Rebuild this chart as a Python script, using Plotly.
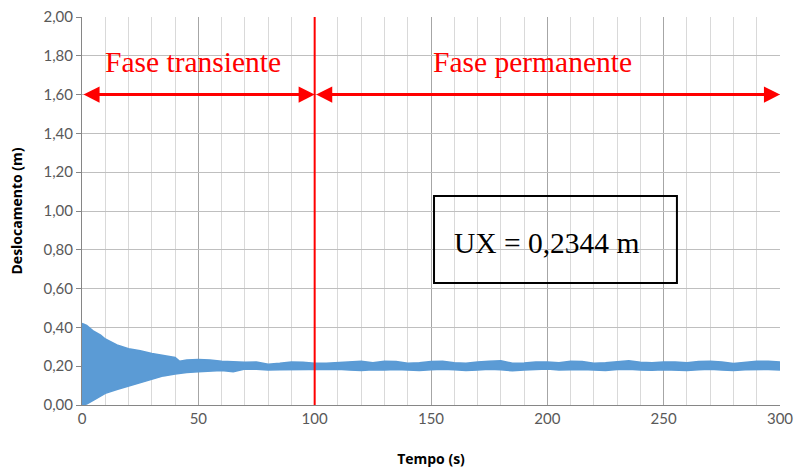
import plotly.graph_objects as go

# Envelope of the displacement signal
tempo = [0, 2, 5, 8, 10, 15, 20, 25, 30, 35, 40, 42, 45, 50, 55, 60, 65, 70, 75, 80,
         85, 90, 95, 100, 105, 110, 115, 120, 125, 130, 135, 140, 145, 150, 155, 160,
         165, 170, 175, 180, 185, 190, 195, 200, 205, 210, 215, 220, 225, 230, 235,
         240, 245, 250, 255, 260, 265, 270, 275, 280, 285, 290, 295, 300]
desl_max = [0.42, 0.41, 0.38, 0.36, 0.34, 0.31, 0.29, 0.28, 0.265, 0.255, 0.245, 0.225,
            0.232, 0.235, 0.232, 0.225, 0.222, 0.22, 0.222, 0.21, 0.215, 0.222, 0.22,
            0.215, 0.215, 0.218, 0.222, 0.226, 0.218, 0.225, 0.224, 0.215, 0.218, 0.224,
            0.226, 0.218, 0.215, 0.222, 0.225, 0.228, 0.215, 0.216, 0.222, 0.222, 0.218,
            0.225, 0.224, 0.215, 0.218, 0.222, 0.228, 0.22, 0.218, 0.222, 0.222, 0.218,
            0.224, 0.226, 0.222, 0.214, 0.22, 0.225, 0.226, 0.222]
desl_min = [0.0, 0.005, 0.025, 0.045, 0.06, 0.08, 0.098, 0.115, 0.135, 0.15, 0.16, 0.164,
            0.168, 0.172, 0.175, 0.178, 0.172, 0.186, 0.184, 0.18, 0.182, 0.182, 0.185,
            0.183, 0.182, 0.184, 0.18, 0.178, 0.182, 0.18, 0.183, 0.18, 0.178, 0.182,
            0.184, 0.182, 0.178, 0.18, 0.184, 0.182, 0.176, 0.18, 0.184, 0.185, 0.18,
            0.182, 0.183, 0.18, 0.178, 0.183, 0.184, 0.18, 0.179, 0.182, 0.18, 0.178,
            0.182, 0.184, 0.18, 0.178, 0.182, 0.184, 0.183, 0.18]

limite_fase = 100
tempo_final = 300
nivel_seta = 1.60
ux_texto = "UX = 0,2344 m"

azul = "#5B9BD5"
vermelho = "#FF0000"

fig = go.Figure()
fig.add_trace(go.Scatter(x=tempo, y=desl_min, mode="lines",
                         line=dict(color=azul, width=1.5), hoverinfo="skip", showlegend=False))
fig.add_trace(go.Scatter(x=tempo, y=desl_max, mode="lines", fill="tonexty",
                         fillcolor=azul, line=dict(color=azul, width=1.5), showlegend=False))

# vertical separation line
fig.add_shape(type="line", x0=limite_fase, x1=limite_fase, y0=0, y1=2.0,
              xref="x", yref="y", line=dict(color=vermelho, width=2))

# double arrows
for a, b in [(0, limite_fase), (limite_fase, tempo_final)]:
    fig.add_annotation(x=b, y=nivel_seta, ax=a, ay=nivel_seta, xref="x", yref="y",
                       axref="x", ayref="y", text="", showarrow=True,
                       arrowhead=2, arrowside="end+start", arrowsize=1.07,
                       arrowwidth=3, arrowcolor=vermelho)

serif = "Liberation Serif, Times New Roman, serif"
fig.add_annotation(x=47.5, y=1.77, xref="x", yref="y", text="Fase transiente",
                   showarrow=False, font=dict(family=serif, size=29.5, color=vermelho))
fig.add_annotation(x=193.8, y=1.77, xref="x", yref="y", text="Fase permanente",
                   showarrow=False, font=dict(family=serif, size=29.5, color=vermelho))

# result box
fig.add_shape(type="rect", x0=151.3, x1=255.7, y0=0.629, y1=1.077, xref="x", yref="y",
              line=dict(color="black", width=2))
fig.add_annotation(x=199.5, y=0.835, xref="x", yref="y", text=ux_texto,
                   showarrow=False, font=dict(family=serif, size=29.5, color="black"))

sans = "Lato, Carlito, Calibri, sans-serif"
title_font = dict(family="Open Sans, sans-serif", size=14, color="black")
fig.update_layout(
    width=796, height=472,
    margin=dict(l=82, r=16, t=17, b=67),
    plot_bgcolor="white", paper_bgcolor="white",
    separators=",.",
    font=dict(family=sans, size=15, color="#595959"),
)
fig.update_xaxes(
    range=[0, tempo_final], dtick=50, tick0=0, automargin=False,
    showgrid=True, gridcolor="#A6A6A6", gridwidth=1,
    minor=dict(dtick=10, showgrid=True, gridcolor="#D9D9D9", gridwidth=1),
    showline=True, linecolor="#868686", linewidth=1,
    zeroline=False, ticks="",
    title=dict(text="<b>Tempo (s)</b>", font=title_font, standoff=28),
)
fig.update_yaxes(
    range=[0, 2.0], dtick=0.2, tick0=0, tickformat=".2f", automargin=False,
    showgrid=True, gridcolor="#BFBFBF", gridwidth=1,
    showline=True, linecolor="#868686", linewidth=1,
    zeroline=False, ticks="outside", ticklen=5, tickcolor="#868686",
    title=dict(text="<b>Deslocamento (m)</b>", font=title_font, standoff=17),
)

fig.write_html("out.html", config={"displayModeBar": False},
               post_script="document.body.style.margin='0';document.body.style.overflow='hidden';")
